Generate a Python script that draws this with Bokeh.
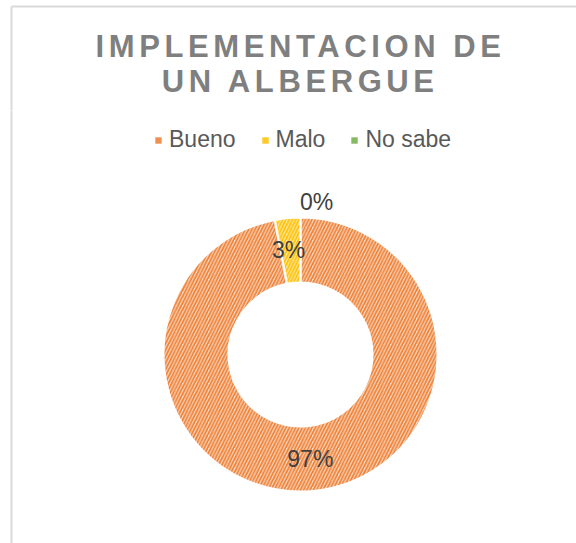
import numpy as np
from bokeh.plotting import figure
from bokeh.layouts import column
from bokeh.models import Range1d, Legend, LegendItem
from bokeh.core.properties import value
from bokeh.embed import file_html
from bokeh.resources import INLINE

# ---- data ----
categories = ["Bueno", "Malo", "No sabe"]
percents = [97, 3, 0]
labels = ["97%", "3%", "0%"]
colors = ["#ED7D31", "#FFC000", "#70AD47"]
fills = ["#FBDCC6", "#FFE9A8", "#D5E8C8"]
title_lines = ["IMPLEMENTACION DE", "UN ALBERGUE"]

W, H = 576, 543
SPLIT = 433  # title panel sits above this height


def base(height, y0, y1):
    f = figure(width=W, height=height, output_backend="svg", toolbar_location=None,
               x_range=Range1d(0, W), y_range=Range1d(y0, y1),
               min_border=0, outline_line_color=None)
    f.axis.visible = False
    f.grid.visible = False
    f.background_fill_color = "white"
    f.border_fill_color = "white"
    # chart-area border (left and top edges)
    f.segment(x0=[11, 11], y0=[0, 537], x1=[11, W], y1=[537, 537],
              line_color="#D9D9D9", line_width=2)
    return f


# ---- title panel ----
t = base(H - SPLIT, SPLIT, H)
t.styles = {"letter-spacing": "4.6px"}
t.text(x=[299, 299], y=[497, 462], text=title_lines, x_offset=[-38, -24],
       text_align="center", text_baseline="middle",
       text_font=value("Liberation Sans"), text_font_style="bold",
       text_font_size="31px", text_color="#7F7F7F")

# ---- chart panel ----
p = base(SPLIT, 0, SPLIT)

cx, cy = 300, 189
r_in, r_out = 72, 137

frac = np.array(percents, dtype=float) / sum(percents)
cum = np.concatenate([[0], np.cumsum(frac)])
start = np.pi / 2 - 2 * np.pi * cum[:-1]
end = np.pi / 2 - 2 * np.pi * cum[1:]
mid = (start + end) / 2

items = []
for i, c in enumerate(categories):
    if frac[i] > 0:
        p.annular_wedge(x=cx, y=cy, inner_radius=r_in, outer_radius=r_out,
                        start_angle=start[i], end_angle=end[i], direction="clock",
                        fill_color=fills[i], line_color="white", line_width=2,
                        hatch_pattern="/", hatch_color=colors[i],
                        hatch_scale=6.5, hatch_weight=1.8, hatch_alpha=0.95)
    lg = p.quad(left=[np.nan], right=[np.nan], top=[np.nan], bottom=[np.nan],
                fill_color=colors[i], fill_alpha=0.85, line_color=None)
    items.append(LegendItem(label=c, renderers=[lg]))

# data labels
lr = np.array([(r_in + r_out) / 2] * len(categories))
lr[2] = r_out + 16
lx = cx + lr * np.cos(mid)
ly = cy + lr * np.sin(mid)
xoff = [0, -2, 16]
p.text(x=lx, y=ly, text=labels, x_offset=xoff, text_align="center",
       text_baseline="middle", text_font=value("Liberation Sans"),
       text_font_size="23px", text_color="#404040")

legend = Legend(items=items, orientation="horizontal", location=(154, 390),
                glyph_width=8, glyph_height=8, label_standoff=7, spacing=25,
                label_text_font="Liberation Sans", label_text_font_size="23px",
                label_text_color="#595959", border_line_color=None,
                background_fill_alpha=0, padding=0, margin=0)
p.add_layout(legend)

layout = column(t, p, spacing=0)
open("out.html", "w").write(file_html(layout, INLINE))
